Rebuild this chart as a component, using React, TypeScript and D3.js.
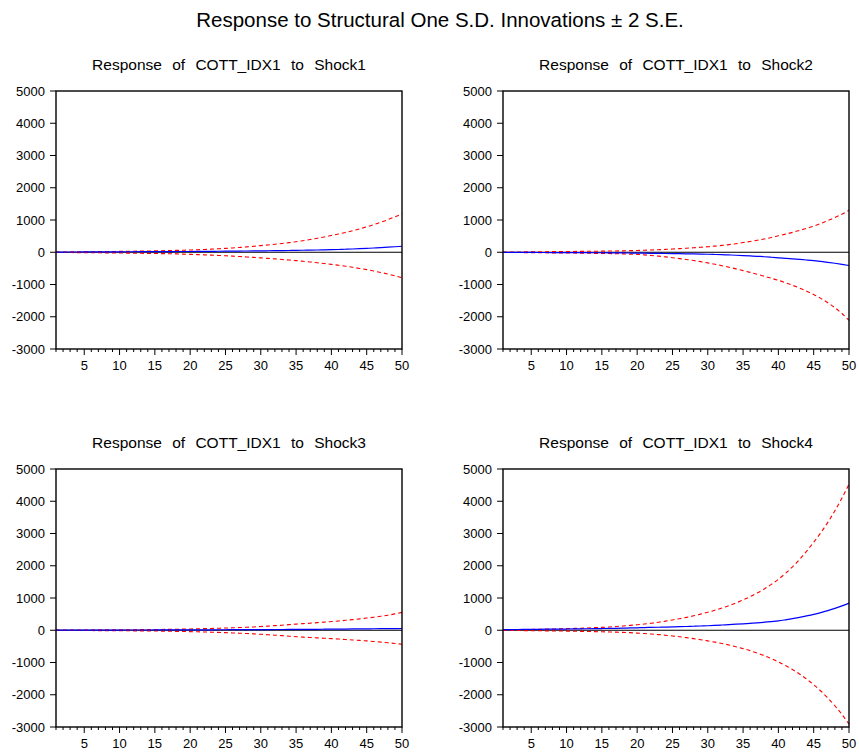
import React from "react";
import * as d3 from "d3";

const periods: number[] = Array.from({ length: 50 }, (_, i) => i + 1);
const yTicks: number[] = [5000, 4000, 3000, 2000, 1000, 0, -1000, -2000, -3000];
const xTicks: number[] = [5, 10, 15, 20, 25, 30, 35, 40, 45, 50];
const mainTitle = "Response to Structural One S.D. Innovations \u00b1 2 S.E.";
const panelTitles: string[] = [
  "Response of COTT_IDX1 to Shock1",
  "Response of COTT_IDX1 to Shock2",
  "Response of COTT_IDX1 to Shock3",
  "Response of COTT_IDX1 to Shock4",
];

// Shock1
const resp1: number[] = [5,6,7,8,9,10,11,12,13,14,15,16,17,18,19,20,21,22,23,24,25,27,29,31,33,35,37,39,41,43,46,49,52,55,58,62,66,70,75,80,86,93,101,110,120,131,143,156,170,186];
const upper1: number[] = [5,8,10,12,14,16,18,20,23,26,29,32,35,39,43,47,52,57,63,70,78,87,97,108,120,134,149,166,185,206,226,248,272,298,327,359,394,432,474,520,565,614,667,725,788,856,930,1010,1098,1193];
const lower1: number[] = [-5,-7,-9,-11,-13,-15,-17,-19,-21,-23,-26,-29,-32,-35,-38,-42,-46,-51,-58,-65,-73,-81,-90,-99,-110,-121,-133,-146,-160,-175,-190,-206,-223,-241,-260,-281,-302,-325,-349,-375,-404,-434,-467,-502,-540,-582,-627,-676,-730,-790];

// Shock2
const resp2: number[] = [-2,-3,-4,-5,-6,-7,-8,-9,-10,-11,-12,-13,-14,-15,-16,-18,-20,-22,-24,-27,-30,-33,-36,-39,-42,-45,-49,-53,-57,-62,-69,-76,-84,-93,-103,-114,-126,-139,-155,-172,-188,-205,-222,-240,-260,-285,-312,-342,-375,-410];
const upper2: number[] = [5,7,9,11,13,15,17,19,21,23,25,27,29,31,34,37,40,44,49,55,62,70,79,89,100,112,125,139,154,170,190,212,237,266,300,333,370,411,458,510,561,617,679,741,810,890,980,1075,1180,1300];
const lower2: number[] = [-5,-7,-9,-11,-13,-15,-17,-19,-21,-23,-25,-28,-31,-34,-37,-41,-45,-50,-57,-65,-82,-100,-120,-143,-170,-197,-226,-257,-292,-330,-372,-416,-464,-515,-570,-625,-683,-744,-806,-870,-945,-1025,-1112,-1207,-1310,-1430,-1565,-1720,-1900,-2110];

// Shock3
const resp3: number[] = [2,2,3,3,4,4,5,5,6,6,7,7,8,8,9,9,10,10,11,11,12,13,14,15,16,17,18,19,20,21,22,23,24,25,26,27,28,30,32,34,36,38,40,42,44,46,48,50,52,55];
const upper3: number[] = [5,6,7,8,9,10,11,12,13,14,15,17,19,21,23,25,28,31,35,40,45,50,56,62,69,76,84,93,103,115,128,142,157,173,190,204,219,235,252,270,288,308,330,353,378,405,434,466,508,555];
const lower3: number[] = [-5,-6,-7,-8,-9,-10,-11,-12,-13,-14,-16,-18,-20,-22,-24,-27,-30,-34,-38,-43,-48,-54,-60,-67,-75,-83,-92,-102,-113,-125,-139,-153,-168,-184,-200,-212,-224,-236,-248,-260,-273,-287,-301,-315,-330,-348,-367,-388,-410,-435];

// Shock4
const resp4: number[] = [20,22,24,26,28,30,32,34,36,38,41,44,47,50,53,57,61,66,71,76,84,88,93,98,104,110,117,124,132,140,151,163,175,187,200,215,231,249,269,290,323,360,400,443,490,545,608,677,754,840];
const upper4: number[] = [10,13,17,21,25,29,33,38,44,50,56,63,71,80,90,102,116,132,150,170,193,219,249,282,320,358,400,447,500,560,621,689,764,847,940,1042,1156,1282,1422,1580,1763,1968,2196,2451,2730,3022,3345,3703,4099,4530];
const lower4: number[] = [-5,-7,-9,-11,-13,-15,-18,-21,-24,-27,-30,-34,-38,-42,-47,-52,-58,-66,-75,-90,-103,-118,-135,-155,-178,-202,-230,-260,-293,-330,-368,-410,-457,-510,-569,-634,-707,-788,-879,-980,-1093,-1218,-1358,-1515,-1689,-1883,-2100,-2341,-2610,-2910];

const responses = [resp1, resp2, resp3, resp4];
const uppers = [upper1, upper2, upper3, upper4];
const lowers = [lower1, lower2, lower3, lower4];

const W = 859;
const H = 755;
const FONT = "'Liberation Sans', Arial, Helvetica, sans-serif";

const lefts = [56, 503, 56, 503];
const tops = [91, 91, 469, 469];
const PW = 346;
const PH = 258;

function Panel({ idx }: { idx: number }) {
  const x0 = lefts[idx];
  const y0 = tops[idx];
  const x = d3.scaleLinear().domain([1, 50]).range([x0, x0 + PW]);
  const y = d3.scaleLinear().domain([-3000, 5000]).range([y0 + PH, y0]);
  const line = d3
    .line<number>()
    .x((_, i) => x(periods[i]))
    .y((d) => y(d))
    .curve(d3.curveMonotoneX);
  return (
    <g>
      <text
        x={x0 + PW / 2}
        y={y0 - 21}
        textAnchor="middle"
        fontFamily={FONT}
        fontSize={15.5}
        style={{ wordSpacing: "6px" }}
        fill="#000"
      >
        {panelTitles[idx]}
      </text>
      <line x1={x0} x2={x0 + PW} y1={y(0)} y2={y(0)} stroke="#000" strokeWidth={1} />
      <path d={line(uppers[idx]) || ""} fill="none" stroke="#ff0000" strokeWidth={1.1} strokeDasharray="4,3" />
      <path d={line(lowers[idx]) || ""} fill="none" stroke="#ff0000" strokeWidth={1.1} strokeDasharray="4,3" />
      <path d={line(responses[idx]) || ""} fill="none" stroke="#0000ff" strokeWidth={1.2} />
      <rect x={x0} y={y0} width={PW} height={PH} fill="none" stroke="#000" strokeWidth={1.4} />
      {yTicks.map((t) => (
        <g key={"y" + t}>
          <line x1={x0 - 6} x2={x0} y1={y(t)} y2={y(t)} stroke="#000" strokeWidth={1} />
          <text
            x={x0 - 11}
            y={y(t)}
            dy="0.35em"
            textAnchor="end"
            fontFamily={FONT}
            fontSize={13}
            fill="#000"
          >
            {t}
          </text>
        </g>
      ))}
      {periods.map((p) => (
        <line
          key={"m" + p}
          x1={x(p)}
          x2={x(p)}
          y1={y0 + PH}
          y2={y0 + PH + (xTicks.includes(p) ? 6 : 3)}
          stroke="#000"
          strokeWidth={1}
        />
      ))}
      {xTicks.map((t) => (
        <text
          key={"x" + t}
          x={x(t)}
          y={y0 + PH + 21}
          textAnchor="middle"
          fontFamily={FONT}
          fontSize={13}
          fill="#000"
        >
          {t}
        </text>
      ))}
    </g>
  );
}

export default function App() {
  return (
    <svg
      width={W}
      height={H}
      viewBox={`0 0 ${W} ${H}`}
      style={{ position: "absolute", left: 0, top: 0, background: "#fff" }}
    >
      <rect x={0} y={0} width={W} height={H} fill="#fff" />
      <text x={440} y={27} textAnchor="middle" fontFamily={FONT} fontSize={20.5} fill="#000">
        {mainTitle}
      </text>
      {[0, 1, 2, 3].map((i) => (
        <Panel key={i} idx={i} />
      ))}
    </svg>
  );
}
